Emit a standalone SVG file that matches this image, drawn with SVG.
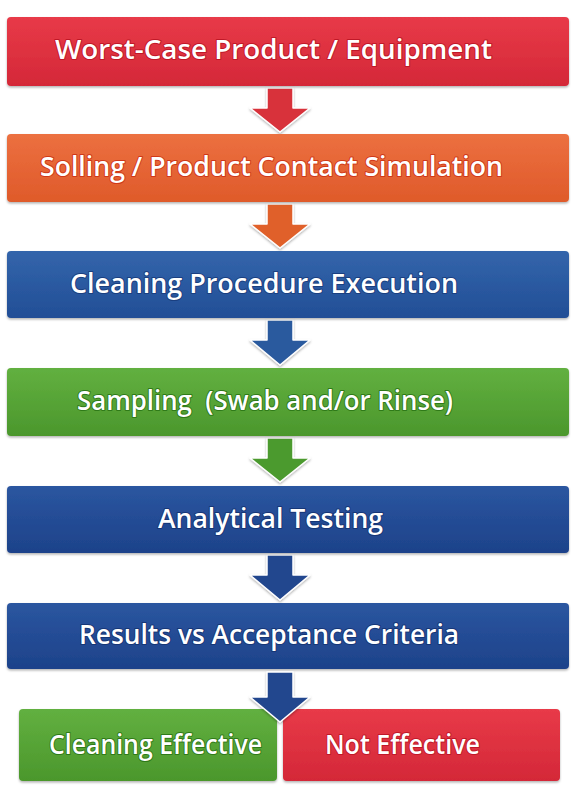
<svg xmlns="http://www.w3.org/2000/svg" width="578" height="800" viewBox="0 0 578 800">
<defs>
<linearGradient id="gRed" x1="0" y1="0" x2="0" y2="1"><stop offset="0" stop-color="#e83a48"/><stop offset="1" stop-color="#d42838"/></linearGradient>
<linearGradient id="gOrange" x1="0" y1="0" x2="0" y2="1"><stop offset="0" stop-color="#ec7040"/><stop offset="1" stop-color="#df5a2a"/></linearGradient>
<linearGradient id="gBlue" x1="0" y1="0" x2="0" y2="1"><stop offset="0" stop-color="#3365ab"/><stop offset="1" stop-color="#224e96"/></linearGradient>
<linearGradient id="gNavy" x1="0" y1="0" x2="0" y2="1"><stop offset="0" stop-color="#2b56a0"/><stop offset="1" stop-color="#1d428a"/></linearGradient>
<linearGradient id="gGreen" x1="0" y1="0" x2="0" y2="1"><stop offset="0" stop-color="#62b040"/><stop offset="1" stop-color="#4b972c"/></linearGradient>
<filter id="sh" x="-5%" y="-10%" width="110%" height="130%"><feDropShadow dx="0" dy="1.5" stdDeviation="1.2" flood-color="#000" flood-opacity="0.3"/></filter>
</defs>
<style>
.box{filter:url(#sh)}
.t{font-family:"Open Sans","Noto Sans","DejaVu Sans",sans-serif;font-weight:600;font-size:27px;fill:#fff;stroke-width:2;paint-order:stroke;stroke-linejoin:round}
.arr{stroke:#fff;stroke-width:1.5;stroke-linejoin:round;filter:url(#sh)}
</style>
<rect width="578" height="800" fill="#fff"/>
<g id="connectors">
<path class="arr" fill="#d8303a" d="M267,88 H293 V108 H310 L280,132 L250,108 H267 Z"/>
<path class="arr" fill="#e0602a" d="M267,204 H293 V224 H310 L280,248 L250,224 H267 Z"/>
<path class="arr" fill="#2a5a9e" d="M267,320 H293 V340 H310 L280,365 L250,340 H267 Z"/>
<path class="arr" fill="#4c9a2e" d="M267,438 H293 V458 H310 L280,482 L250,458 H267 Z"/>
<path class="arr" fill="#22468e" d="M267,555 H293 V575 H310 L280,600 L250,575 H267 Z"/>
</g>
<g id="n1"><rect class="box" x="7" y="17" width="562" height="69" rx="4" fill="url(#gRed)"/><text class="t" x="55" y="59" font-size="28" textLength="437" lengthAdjust="spacingAndGlyphs" stroke="#c01828">Worst-Case Product / Equipment</text></g>
<g id="n2"><rect class="box" x="7" y="134" width="562" height="68" rx="4" fill="url(#gOrange)"/><text class="t" x="40" y="176" textLength="463" lengthAdjust="spacingAndGlyphs" stroke="#d03818">Solling / Product Contact Simulation</text></g>
<g id="n3"><rect class="box" x="7" y="251" width="562" height="67" rx="4" fill="url(#gBlue)"/><text class="t" x="70" y="293" textLength="388" lengthAdjust="spacingAndGlyphs" stroke="#1a3f80">Cleaning Procedure Execution</text></g>
<g id="n4"><rect class="box" x="7" y="368" width="562" height="68" rx="4" fill="url(#gGreen)"/><text class="t" x="77" y="410" textLength="376" lengthAdjust="spacingAndGlyphs" stroke="#2f7a18">Sampling&#160; (Swab and/or Rinse)</text></g>
<g id="n5"><rect class="box" x="7" y="486" width="562" height="67" rx="4" fill="url(#gNavy)"/><text class="t" x="158" y="528" textLength="225" lengthAdjust="spacingAndGlyphs" stroke="#163676">Analytical Testing</text></g>
<g id="n6"><rect class="box" x="7" y="603" width="562" height="66" rx="4" fill="url(#gNavy)"/><text class="t" x="79" y="644" textLength="380" lengthAdjust="spacingAndGlyphs" stroke="#163676">Results vs Acceptance Criteria</text></g>
<g id="n7"><rect class="box" x="19" y="709" width="258" height="72" rx="4" fill="url(#gGreen)"/><text class="t" x="49" y="754" textLength="213" lengthAdjust="spacingAndGlyphs" stroke="#2f7a18">Cleaning Effective</text></g>
<g id="n8"><rect class="box" x="283" y="709" width="277" height="72" rx="4" fill="url(#gRed)"/><text class="t" x="325" y="754" textLength="155" lengthAdjust="spacingAndGlyphs" stroke="#c01828">Not Effective</text></g>
<g id="connectors-top">
<path class="arr" fill="#22468e" d="M267,672 H293 V697 H310 L280,722 L250,697 H267 Z"/>
</g>
</svg>
